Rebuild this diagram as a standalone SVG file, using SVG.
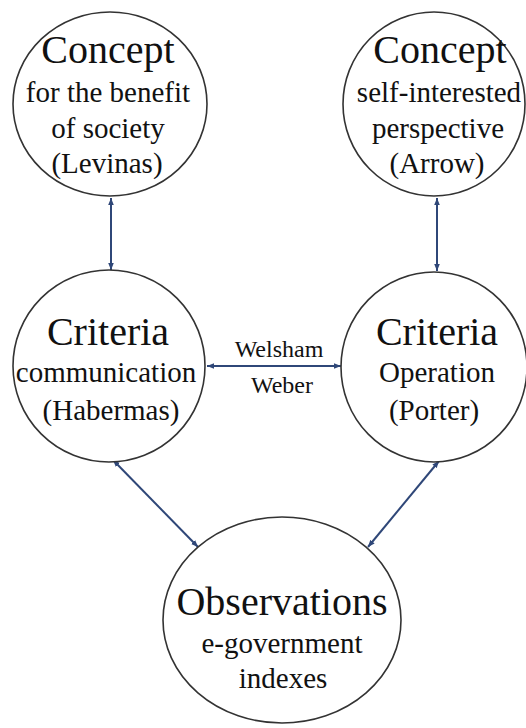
<svg xmlns="http://www.w3.org/2000/svg" width="526" height="728" viewBox="0 0 526 728">
<defs>
<marker id="ah" viewBox="0 0 10 10" refX="10" refY="5" markerWidth="7" markerHeight="7" markerUnits="userSpaceOnUse" orient="auto-start-reverse">
<path d="M0,1 L10,5 L0,9 z" fill="#2f4778"/>
</marker>
</defs>
<style>
.node{fill:#fff;stroke:#333;stroke-width:1.6}
.con{stroke:#2f4778;stroke-width:2;fill:none;marker-start:url(#ah);marker-end:url(#ah)}
</style>
<rect width="526" height="728" fill="#fff"/>
<g id="connectors">
<line class="con" x1="111" y1="198" x2="111" y2="270"/>
<line class="con" x1="437" y1="198" x2="437" y2="271"/>
<line class="con" x1="207" y1="366" x2="341" y2="366"/>
<line class="con" x1="113" y1="460" x2="198" y2="547"/>
<line class="con" x1="439" y1="461" x2="368" y2="547"/>
</g>
<g id="labels" font-family="Liberation Serif" font-size="24" fill="#111" text-anchor="middle">
<text x="279" y="357">Welsham</text>
<text x="282" y="393">Weber</text>
</g>
<g id="concept-left" font-family="Liberation Serif" font-size="29" fill="#111" text-anchor="middle">
<ellipse class="node" cx="110" cy="104" rx="97" ry="92"/>
<text x="108" y="63" font-size="40">Concept</text>
<text x="108" y="102">for the benefit</text>
<text x="108" y="138">of society</text>
<text x="107" y="173">(Levinas)</text>
</g>
<g id="concept-right" font-family="Liberation Serif" font-size="29" fill="#111" text-anchor="middle">
<ellipse class="node" cx="434" cy="104" rx="91" ry="92"/>
<text x="440" y="63" font-size="40">Concept</text>
<text x="439" y="102">self-interested</text>
<text x="438" y="138">perspective</text>
<text x="437" y="173">(Arrow)</text>
</g>
<g id="criteria-left" font-family="Liberation Serif" font-size="29" fill="#111" text-anchor="middle">
<ellipse class="node" cx="109" cy="366" rx="96" ry="96"/>
<text x="108" y="345" font-size="40">Criteria</text>
<text x="106" y="382">communication</text>
<text x="111" y="420">(Habermas)</text>
</g>
<g id="criteria-right" font-family="Liberation Serif" font-size="29" fill="#111" text-anchor="middle">
<ellipse class="node" cx="434" cy="367" rx="93" ry="95"/>
<text x="437" y="345" font-size="40">Criteria</text>
<text x="437" y="382">Operation</text>
<text x="434" y="420">(Porter)</text>
</g>
<g id="observations" font-family="Liberation Serif" font-size="29" fill="#111" text-anchor="middle">
<ellipse class="node" cx="282" cy="620" rx="119" ry="103"/>
<text x="282" y="615" font-size="40">Observations</text>
<text x="282" y="653">e-government</text>
<text x="283" y="688">indexes</text>
</g>
</svg>
